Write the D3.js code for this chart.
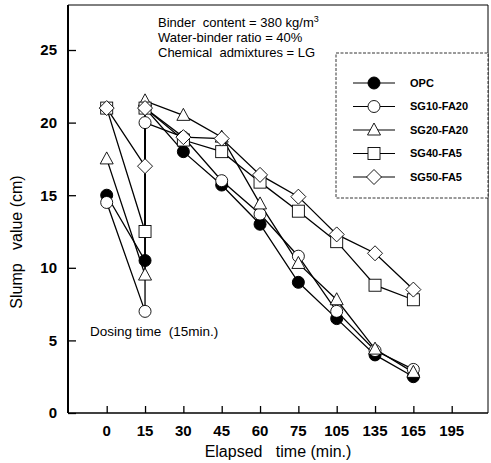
<!DOCTYPE html>
<html><head><meta charset="utf-8">
<script src="https://cdn.jsdelivr.net/npm/d3@7"></script>
<style>body{margin:0;background:#fff}svg{display:block}text{font-family:"Liberation Sans",Arial,sans-serif;fill:#000}</style>
</head><body>
<script>
const tickLabels = ["0","15","30","45","60","75","105","135","165","195"];
const yTicks = [0,5,10,15,20,25];
const times = [0,15,15,30,45,60,75,105,135,165];
const seriesNames = ["OPC","SG10-FA20","SG20-FA20","SG40-FA5","SG50-FA5"];
const opc      = [15,10.5,21,18,15.7,13,9,6.5,4,2.5];
const sg10fa20 = [14.5,7,20,19,16,13.7,10.8,7,4.3,3];
const sg20fa20 = [17.5,9.5,21.5,20.5,19,14.4,10.3,7.8,4.4,2.8];
const sg40fa5  = [21,12.5,21,18.8,18,15.9,13.9,11.8,8.8,7.8];
const sg50fa5  = [21,17,21,19,18.9,16.4,14.9,12.3,11,8.5];
const seriesValues = [opc, sg10fa20, sg20fa20, sg40fa5, sg50fa5];
const markers = ["filledCircle","circle","triangle","square","diamond"];

const W = 491, H = 463;
const svg = d3.select("body").append("svg").attr("width", W).attr("height", H);
const L = 68, R = 488, T = 5, B = 413;
const x = d3.scalePoint().domain(tickLabels).range([106.7, 451.7]);
const y = d3.scaleLinear().domain([0, 28.1]).range([B, T]);

// frame
svg.append("line").attr("x1",L).attr("x2",R).attr("y1",T).attr("y2",T).attr("stroke","#000").attr("stroke-width",1);
svg.append("line").attr("x1",R).attr("x2",R).attr("y1",T).attr("y2",B).attr("stroke","#000").attr("stroke-width",1);

// axes
const yAxis = d3.axisRight(y).tickValues(yTicks).tickSize(8).tickFormat("");
const gy = svg.append("g").attr("transform",`translate(${L},0)`).call(yAxis);
gy.select(".domain").attr("stroke-width",2).attr("d",`M0,${T}V${B}`);
gy.selectAll(".tick line").attr("stroke-width",1.3);
svg.append("g").selectAll("text").data(yTicks).join("text")
  .attr("x",57).attr("y",d=>y(d)).attr("dy","0.36em").attr("text-anchor","end")
  .attr("font-size",15).attr("font-weight","bold").text(d=>d);

const xAxis = d3.axisTop(x).tickSize(7).tickFormat("");
const gx = svg.append("g").attr("transform",`translate(0,${B})`).call(xAxis);
gx.select(".domain").attr("stroke-width",1.5).attr("d",`M${L},0H${R}`);
gx.selectAll(".tick line").attr("stroke-width",1.3);
svg.append("g").selectAll("text").data(tickLabels).join("text")
  .attr("x",d=>x(d)).attr("y",436).attr("text-anchor","middle")
  .attr("font-size",15).attr("font-weight","bold").text(d=>d);

// axis titles
svg.append("text").attr("x",278).attr("y",457).attr("text-anchor","middle").attr("font-size",16)
  .attr("xml:space","preserve").text("Elapsed   time (min.)");
svg.append("text").attr("transform","translate(22,242) rotate(-90)").attr("text-anchor","middle").attr("font-size",16)
  .attr("xml:space","preserve").text("Slump   value (cm)");

// annotation
const ann = svg.append("text").attr("font-size",13).attr("xml:space","preserve");
ann.append("tspan").attr("x",158).attr("y",27).text("Binder  content = 380 kg/m");
ann.append("tspan").attr("dy",-5).attr("font-size",9).text("3");
svg.append("text").attr("x",158).attr("y",42).attr("font-size",13).text("Water-binder ratio = 40%");
svg.append("text").attr("x",158).attr("y",57).attr("font-size",13).attr("xml:space","preserve").text("Chemical  admixtures = LG");
svg.append("text").attr("x",90).attr("y",336).attr("font-size",13.5).attr("xml:space","preserve").text("Dosing time  (15min.)");

// marker drawing
function drawMarker(g, type, cx, cy){
  if(type==="filledCircle") g.append("circle").attr("cx",cx).attr("cy",cy).attr("r",6).attr("fill","#000").attr("stroke","#000");
  else if(type==="circle") g.append("circle").attr("cx",cx).attr("cy",cy).attr("r",6).attr("fill","#fff").attr("stroke","#000").attr("stroke-width",0.9);
  else if(type==="triangle") g.append("path").attr("d",`M${cx},${cy-7}L${cx+6.5},${cy+5}L${cx-6.5},${cy+5}Z`).attr("fill","#fff").attr("stroke","#000").attr("stroke-width",0.9);
  else if(type==="square") g.append("rect").attr("x",cx-6).attr("y",cy-6).attr("width",12).attr("height",12).attr("fill","#fff").attr("stroke","#000").attr("stroke-width",0.9);
  else if(type==="diamond") g.append("path").attr("d",`M${cx},${cy-7.5}L${cx+7.5},${cy}L${cx},${cy+7.5}L${cx-7.5},${cy}Z`).attr("fill","#fff").attr("stroke","#000").attr("stroke-width",0.9);
}

const line = d3.line().x(d=>x(String(d[0]))).y(d=>y(d[1]));
seriesValues.forEach((vals,i)=>{
  const pts = times.map((t,j)=>[t, vals[j]]);
  svg.append("path").datum(pts).attr("d",line).attr("fill","none").attr("stroke","#000").attr("stroke-width",1.3);
});
seriesValues.forEach((vals,i)=>{
  const g = svg.append("g");
  times.forEach((t,j)=>drawMarker(g, markers[i], x(String(t)), y(vals[j])));
});

// legend
svg.append("rect").attr("x",336).attr("y",53).attr("width",152).attr("height",145)
  .attr("fill","#fff").attr("stroke","#000").attr("stroke-width",0.8).attr("stroke-dasharray","3,1.5");
seriesNames.forEach((n,i)=>{
  const cy = 83 + i*23.5;
  const g = svg.append("g");
  g.append("line").attr("x1",353).attr("x2",395).attr("y1",cy).attr("y2",cy).attr("stroke","#000").attr("stroke-width",1.2);
  drawMarker(g, markers[i], 374, cy);
  g.append("text").attr("x",410).attr("y",cy).attr("dy","0.36em").attr("font-size",11).attr("font-weight","bold").text(n);
});
</script>
</body></html>
